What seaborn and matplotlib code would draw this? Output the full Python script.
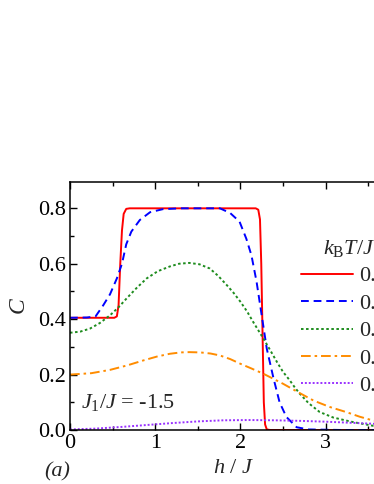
import numpy as np
import pandas as pd
import seaborn as sns
import matplotlib.pyplot as plt
from matplotlib.ticker import MultipleLocator

# Data (C vs h/J for several temperatures)
temps = ["0.01", "0.1", "0.3", "0.5", "0.9"]

h_red = [0, 0.3, 0.52, 0.55, 0.57, 0.59, 0.61, 0.63, 0.66, 0.7, 1.5, 2.18, 2.21,
         2.23, 2.245, 2.26, 2.275, 2.29, 2.31, 2.35, 3.0, 3.9]
C_red = [0.405, 0.405, 0.405, 0.41, 0.45, 0.6, 0.72, 0.78, 0.798, 0.8, 0.8, 0.8, 0.795,
         0.76, 0.6, 0.35, 0.1, 0.02, 0.002, 0, 0, 0]

h_blue = [0, 0.2, 0.3, 0.39, 0.47, 0.55, 0.61, 0.66, 0.72, 0.82, 0.94, 1.09, 1.3, 1.6,
          1.76, 1.88, 1.99, 2.07, 2.13, 2.19, 2.25, 2.31, 2.39, 2.46, 2.54, 2.66, 2.8,
          3.2, 3.9]
C_blue = [0.405, 0.406, 0.41, 0.45, 0.49, 0.547, 0.6, 0.67, 0.716, 0.758, 0.786, 0.797,
          0.8, 0.8, 0.8, 0.783, 0.752, 0.69, 0.63, 0.535, 0.414, 0.293, 0.185, 0.10,
          0.047, 0.01, 0.002, 0, 0]

h_green = [0, 0.12, 0.235, 0.35, 0.47, 0.57, 0.665, 0.78, 0.9, 1.03, 1.17, 1.28, 1.4,
           1.52, 1.64, 1.74, 1.84, 1.92, 2.0, 2.08, 2.15, 2.21, 2.27, 2.35, 2.43, 2.5,
           2.58, 2.64, 2.7, 2.8, 2.93, 3.09, 3.3, 3.56, 3.9]
C_green = [0.351, 0.355, 0.366, 0.386, 0.414, 0.443, 0.475, 0.512, 0.547, 0.573, 0.59,
           0.6, 0.603, 0.598, 0.583, 0.556, 0.523, 0.495, 0.463, 0.427, 0.39, 0.36,
           0.33, 0.288, 0.245, 0.21, 0.179, 0.153, 0.13, 0.097, 0.065, 0.045, 0.03,
           0.015, 0.008]

h_orange = [0, 0.25, 0.47, 0.67, 0.86, 1.02, 1.17, 1.3, 1.4, 1.53, 1.65, 1.76, 1.88, 2.0,
            2.13, 2.27, 2.5, 2.68, 2.86, 3.05, 3.25, 3.4, 3.56, 3.9]
C_orange = [0.2, 0.205, 0.217, 0.233, 0.251, 0.265, 0.275, 0.28, 0.281, 0.28, 0.276,
            0.269, 0.256, 0.239, 0.222, 0.203, 0.167, 0.136, 0.106, 0.083, 0.064,
            0.048, 0.034, 0.02]

h_purple = [0, 0.3, 0.6, 0.9, 1.2, 1.5, 1.8, 2.1, 2.4, 2.7, 3.0, 3.3, 3.6, 3.9]
C_purple = [0.002, 0.005, 0.011, 0.018, 0.025, 0.031, 0.035, 0.036, 0.035, 0.033, 0.03,
            0.026, 0.022, 0.019]

series = [(h_red, C_red), (h_blue, C_blue), (h_green, C_green),
          (h_orange, C_orange), (h_purple, C_purple)]
df = pd.concat([pd.DataFrame({"h": h, "C": c, "T": t})
                for t, (h, c) in zip(temps, series)], ignore_index=True)

colors = ["#ff0000", "#0000ff", "#1e8c1e", "#ff8c00", "#9932ff"]
dashes = ["", (4, 2.5), (1.3, 1.3), (5, 2, 1.3, 2), (1, 1)]

sns.set_style("ticks")
plt.rcParams["font.family"] = ["Liberation Serif", "DejaVu Serif"]
plt.rcParams["mathtext.fontset"] = "custom"
plt.rcParams["mathtext.rm"] = "Liberation Serif"
plt.rcParams["mathtext.it"] = "Liberation Serif:italic"
plt.rcParams["font.size"] = 16

fig = plt.figure(figsize=(3.74, 4.84), dpi=100)
ax = fig.add_axes([70 / 374, 1 - 430 / 484, 328 / 374, 248 / 484])

sns.lineplot(data=df, x="h", y="C", hue="T", style="T", palette=colors,
             dashes=dict(zip(temps, dashes)), hue_order=temps, style_order=temps,
             sort=False, linewidth=1.4, ax=ax)

ax.set_xlim(0, 3.85)
ax.set_ylim(0, 0.895)
ax.xaxis.set_major_locator(MultipleLocator(1))
ax.xaxis.set_minor_locator(MultipleLocator(0.5))
ax.yaxis.set_minor_locator(MultipleLocator(0.1))
ax.set_yticks([0, 0.2, 0.4, 0.6, 0.8])
ax.set_yticklabels(["0.0", "0.2", "0.4", "0.6", "0.8"])
ax.tick_params(which="both", direction="in", top=True, right=True, width=1.0,
               labelsize=16, pad=3, colors="black")
ax.tick_params(which="major", length=5)
ax.tick_params(which="minor", length=3)
for s in ax.spines.values():
    s.set_linewidth(1.1)
    s.set_color("black")

ax.set_xlabel("$h$ / $J$", fontsize=16, labelpad=4)
ax.set_ylabel("$C$", fontsize=17, labelpad=6)

handles, labels = ax.get_legend_handles_labels()
leg = ax.legend(handles, labels, title="$k_{\\mathrm{B}}T/J$", frameon=False,
                loc="upper left", bbox_to_anchor=(301 / 374, 1 - 238 / 484),
                bbox_transform=fig.transFigure, borderpad=0, borderaxespad=0,
                handlelength=2.35, handletextpad=0.25, labelspacing=0.31,
                fontsize=16, title_fontsize=16)

ax.text(0.035, 0.09, "$J_1/J$ = -1.5", transform=ax.transAxes, fontsize=16)
fig.text(57 / 374, 1 - 472 / 484, "(a)", fontstyle="italic", fontsize=16,
         ha="center", va="center")

fig.savefig("out.png", dpi=100)
